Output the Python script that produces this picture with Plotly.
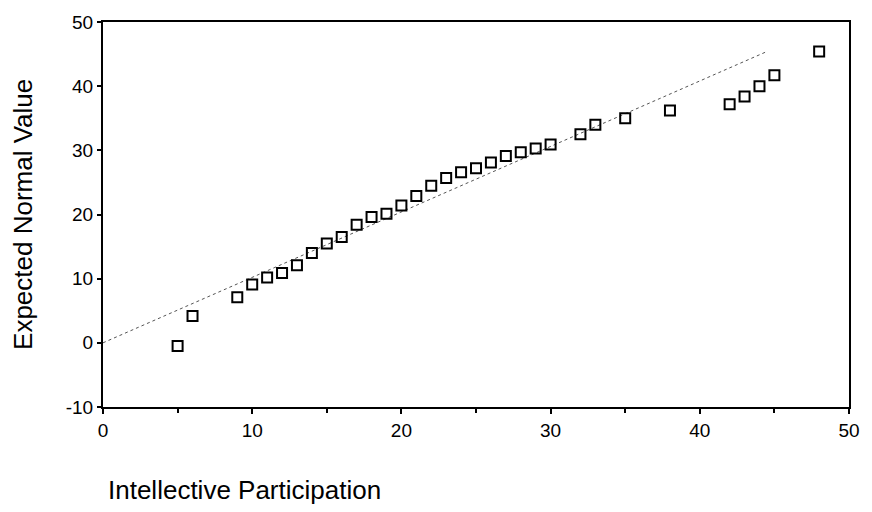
import plotly.graph_objects as go

# Observed values (Intellective Participation) and expected normal values
obs_x = [5, 6, 9, 10, 11, 12, 13, 14, 15, 16, 17, 18, 19, 20, 21, 22, 23, 24,
         25, 26, 27, 28, 29, 30, 32, 33, 35, 38, 42, 43, 44, 45, 48]
exp_y = [-0.5, 4.2, 7.1, 9.1, 10.2, 10.9, 12.1, 14.0, 15.5, 16.5, 18.4, 19.6,
         20.1, 21.4, 22.9, 24.5, 25.7, 26.6, 27.2, 28.1, 29.1, 29.7, 30.3, 30.9,
         32.5, 34.0, 35.0, 36.2, 37.2, 38.4, 40.0, 41.7, 45.4]

# Reference line endpoints
line_x = [0, 44.4]
line_y = [0, 45.3]

x_ticks = [0, 10, 20, 30, 40, 50]
y_ticks = [-10, 0, 10, 20, 30, 40, 50]
y_tick_text = ["-10", "0", "10", "20", "30", "40", "50"]

font_family = "Liberation Sans, Arial, sans-serif"

fig = go.Figure()
fig.add_trace(go.Scatter(
    x=line_x, y=line_y, mode="lines",
    line=dict(color="#555555", width=1, dash="dot"),
    showlegend=False, hoverinfo="skip"))
fig.add_trace(go.Scatter(
    x=obs_x, y=exp_y, mode="markers",
    marker=dict(symbol="square-open", size=10, color="black",
                line=dict(width=2, color="black")),
    showlegend=False, cliponaxis=False))

fig.update_layout(
    width=872, height=512,
    margin=dict(l=103, r=18, t=19, b=105),
    paper_bgcolor="white", plot_bgcolor="white",
    font=dict(family=font_family, size=19, color="black"),
    xaxis=dict(range=[0, 50], tickvals=x_ticks, ticks="outside", ticklen=5,
               tickwidth=2, tickcolor="black", showgrid=False, zeroline=False,
               showline=True, linecolor="black", linewidth=2, mirror=True,
               tickfont=dict(size=19),
               minor=dict(tickvals=[5, 15, 25, 35, 45], ticks="outside",
                          ticklen=4, tickwidth=1.5, tickcolor="black")),
    yaxis=dict(range=[-10, 50], tickvals=y_ticks, ticktext=y_tick_text,
               ticks="outside", ticklen=4,
               tickwidth=2, tickcolor="black", showgrid=False, zeroline=False,
               showline=True, linecolor="black", linewidth=2, mirror=True,
               tickfont=dict(size=19)),
    annotations=[
        dict(text="Expected Normal Value", textangle=-90, xref="paper",
             yref="paper", x=-0.108, y=0.5, xanchor="center", yanchor="middle",
             showarrow=False, font=dict(size=26)),
        dict(text="Intellective Participation", xref="paper", yref="paper",
             x=(106 - 103) / 751, y=-(491 - 407) / 388, xanchor="left",
             yanchor="middle", showarrow=False, font=dict(size=26)),
    ],
)

fig.write_html("out.html")
